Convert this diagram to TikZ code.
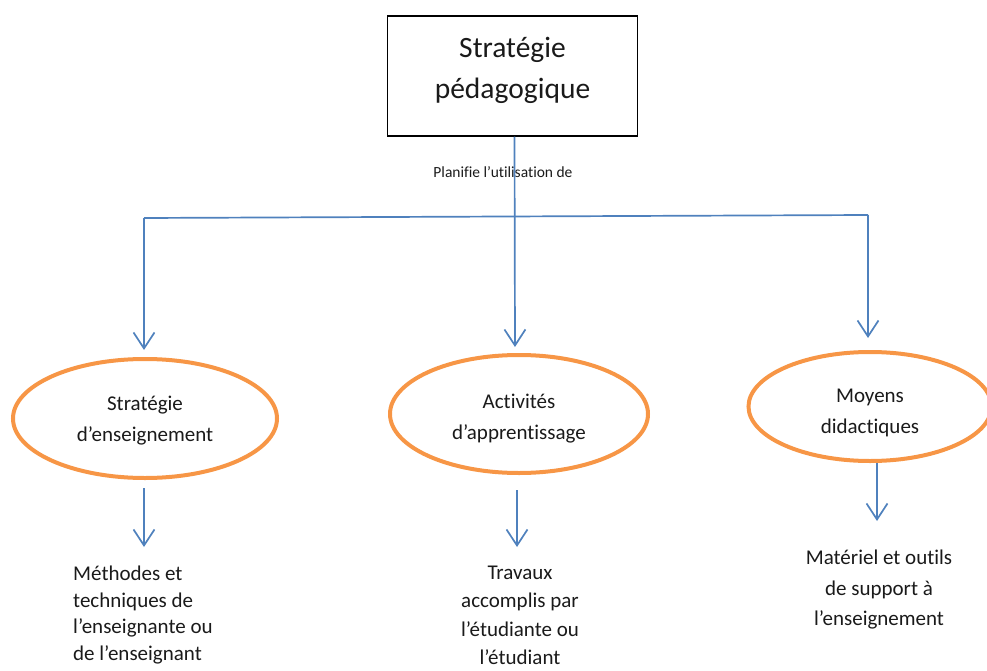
\documentclass[tikz,border=0pt]{standalone}
\usepackage{fontspec}
\setmainfont{Carlito}[Ligatures={NoCommon}]
\usetikzlibrary{arrows.meta,shapes.geometric,calc}
\definecolor{lineblue}{HTML}{4F81BD}
\definecolor{ellorange}{HTML}{F79646}
\definecolor{textdark}{HTML}{1A1A1A}
\begin{document}
\begin{tikzpicture}[x=1pt,y=-1pt,
  titlebox/.style={draw=black,line width=1.5pt,minimum width=250pt,minimum height=120pt,inner sep=0pt},
  titletext/.style={align=center,inner sep=0pt,text=textdark,font=\fontsize{29.5}{41}\selectfont},
  oval/.style={ellipse,draw=ellorange,line width=4pt,inner sep=0pt,align=center,text=textdark,font=\fontsize{21}{31}\selectfont},
  conn/.style={draw=lineblue,line width=1.7pt,-{Straight Barb[length=16pt,width=21pt]}},
  plainline/.style={draw=lineblue,line width=1.7pt},
  bottomtext/.style={inner sep=0pt,text=textdark,font=\fontsize{21}{26}\selectfont},
  smalltext/.style={inner sep=0pt,text=textdark,font=\fontsize{15.5}{19}\selectfont}]
\useasboundingbox (0,0) rectangle (987,671);

% title
\node[titlebox] (top) at (512.5,76) {};
\node[titletext] (toptext) at (512.5,70.5) {Stratégie\\pédagogique};

% label
\node[smalltext] (plan) at (503,172) {Planifie l’utilisation de};

% ellipses
\node[oval,minimum width=264pt,minimum height=119pt] (le) at (145,418.5) {\rule{0pt}{19pt}Stratégie\\d’enseignement};
\node[oval,minimum width=258pt,minimum height=118pt] (me) at (519,414) {\rule{0pt}{23pt}Activités\\d’apprentissage};
\node[oval,minimum width=243pt,minimum height=109pt] (re) at (870,406.5) {\rule{0pt}{26pt}Moyens\\didactiques};

% bottom texts
\node[bottomtext,align=left,anchor=north west,font=\fontsize{21}{26.5}\selectfont] (lt) at (73,566) {Méthodes et\\techniques de\\l’enseignante ou\\de l’enseignant};
\node[bottomtext,align=center,anchor=north,font=\fontsize{21}{28.3}\selectfont] (mt) at (520,566) {Travaux\\accomplis par\\l’étudiante ou\\l’étudiant};
\node[bottomtext,align=center,anchor=north,font=\fontsize{21}{30.5}\selectfont] (rt) at (879,550) {Matériel et outils\\de support à\\l’enseignement};

% connectors from title
\coordinate (hl) at (144,218);
\coordinate (hr) at (868,215);
\draw[plainline] (hl) -- (hr);
\draw[conn,shorten >=7pt] (hl) -- (hl |- le.north);
\draw[conn,shorten >=12pt] (hr) -- (hr |- re.north);
\draw[conn,shorten >=6pt] ([xshift=2pt]top.south) -- ([xshift=-4pt]me.north);

% connectors to bottom texts
\draw[conn,shorten <=8pt,shorten >=19pt] ([xshift=-1pt]le.south) -- ([xshift=-1pt]le.south |- lt.north);
\draw[conn,shorten <=15pt,shorten >=19pt] ([xshift=-2pt]me.south) -- ([xshift=-2pt]me.south |- mt.north);
\draw[conn,shorten <=0pt,shorten >=29pt] ([xshift=7pt]re.south) -- ([xshift=7pt]re.south |- rt.north);
\end{tikzpicture}
\end{document}
